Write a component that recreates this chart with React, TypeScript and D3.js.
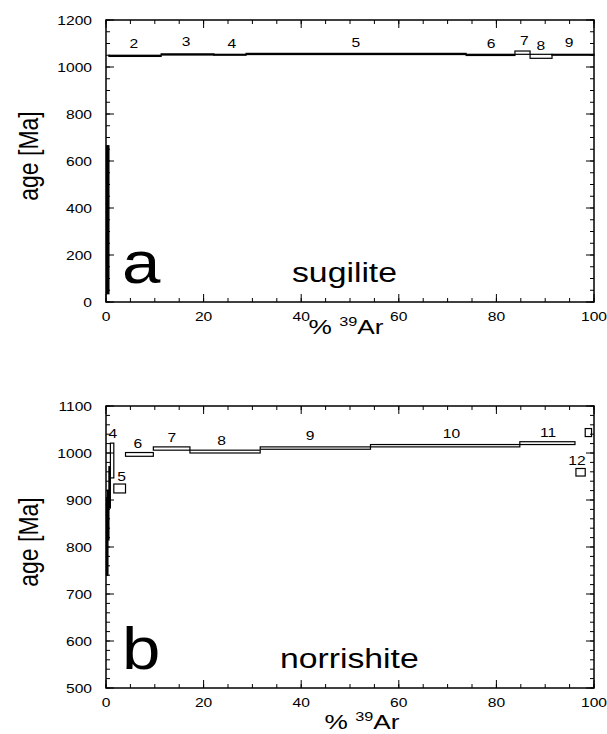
import React from 'react';
import * as d3 from 'd3';

// step heating spectra: cumulative % 39Ar (start, end) and age band (lo, hi) in Ma
const sugStart = [0.1, 0.6, 11.3, 22.1, 28.7, 73.8, 83.8, 86.9, 91.4];
const sugEnd = [0.6, 11.3, 22.1, 28.7, 73.8, 83.8, 86.9, 91.4, 100];
const sugLo = [35, 1045, 1051, 1050, 1053, 1049, 1054, 1037, 1050];
const sugHi = [665, 1050, 1056, 1054, 1058, 1054, 1068, 1054, 1054];
const sugLabels = ['2', '3', '4', '5', '6', '7', '8', '9'];
const sugLabelX = [5.7, 16.4, 25.8, 51.2, 78.9, 85.7, 89.1, 94.9];
const sugLabelAge = [1081, 1089, 1081, 1085, 1081, 1094, 1072, 1085];

const norStart = [0.1, 0.3, 0.6, 0.9, 1.6, 4.0, 9.7, 17.2, 31.6, 54.2, 84.8, 96.3, 98.2];
const norEnd = [0.4, 0.6, 0.9, 1.6, 4.0, 9.7, 17.2, 31.6, 54.2, 84.8, 96.1, 98.2, 99.5];
const norLo = [740, 815, 883, 947, 915, 993, 1006, 1000, 1008, 1013, 1018, 951, 1035];
const norHi = [905, 921, 971, 1021, 934, 1001, 1013, 1006, 1013, 1018, 1024, 967, 1052];
const norLabels = ['4', '5', '6', '7', '8', '9', '10', '11', '12'];
const norLabelX = [1.4, 3.2, 6.5, 13.5, 23.7, 41.8, 70.8, 90.6, 96.5];
const norLabelAge = [1032, 940, 1011, 1023, 1017, 1028, 1032, 1034, 974];

const FONT = '"Liberation Sans", Arial, Helvetica, sans-serif';
const SX = 1.25;

type PanelProps = {
  top: number;
  yDomain: [number, number];
  yMajor: number;
  yMinor: number;
  start: number[];
  end: number[];
  lo: number[];
  hi: number[];
  labels: string[];
  labelX: number[];
  labelAge: number[];
  letter: string;
  name: string;
  nameX: number;
  titleX: number;
  titleGap: number;
};

const Panel = (p: PanelProps) => {
  const left = 106;
  const w = 488;
  const h = 282;
  const x = d3.scaleLinear().domain([0, 100]).range([left, left + w]);
  const y = d3.scaleLinear().domain(p.yDomain).range([p.top + h, p.top]);
  const xMajor = x.ticks(5);
  const xMinor = x.ticks(20);
  const yMaj = y.ticks(p.yMajor);
  const yMin = y.ticks(p.yMinor);
  const bottom = p.top + h;
  const right = left + w;

  const txt = (tx: number, ty: number, s: string, size: number, anchor = 'middle', sx = SX, key?: any) => (
    <text key={key} transform={`translate(${tx},${ty}) scale(${sx},1)`} fontSize={size} textAnchor={anchor} fontFamily={FONT}>
      {s}
    </text>
  );

  return (
    <g>
      {/* steps */}
      {p.start.map((s, i) => {
        const bw = x(p.end[i]) - x(s);
        return (
          <rect
            key={'s' + i}
            x={x(s)}
            y={y(p.hi[i])}
            width={bw}
            height={y(p.lo[i]) - y(p.hi[i])}
            fill={bw < 3 ? '#000' : '#fff'}
            stroke="#000"
            strokeWidth={1.2}
          />
        );
      })}
      {p.labels.map((l, i) => txt(x(p.labelX[i]), y(p.labelAge[i]), l, 12.5, 'middle', SX, 'l' + i))}

      {/* ticks */}
      {xMinor.map((t) => (
        <g key={'xm' + t}>
          <line x1={x(t)} x2={x(t)} y1={bottom} y2={bottom - 4} stroke="#000" />
          <line x1={x(t)} x2={x(t)} y1={p.top} y2={p.top + 4} stroke="#000" />
        </g>
      ))}
      {xMajor.map((t) => (
        <g key={'xM' + t}>
          <line x1={x(t)} x2={x(t)} y1={bottom} y2={bottom - 8} stroke="#000" />
          <line x1={x(t)} x2={x(t)} y1={p.top} y2={p.top + 8} stroke="#000" />
          {txt(x(t), bottom + 19, String(t), 12.5)}
        </g>
      ))}
      {yMin.map((t) => (
        <g key={'ym' + t}>
          <line x1={left} x2={left + 4} y1={y(t)} y2={y(t)} stroke="#000" />
          <line x1={right} x2={right - 4} y1={y(t)} y2={y(t)} stroke="#000" />
        </g>
      ))}
      {yMaj.map((t) => (
        <g key={'yM' + t}>
          <line x1={left} x2={left + 8} y1={y(t)} y2={y(t)} stroke="#000" />
          <line x1={right} x2={right - 8} y1={y(t)} y2={y(t)} stroke="#000" />
          {txt(92, y(t) + 5, String(t), 12.5, 'end')}
        </g>
      ))}
      <rect x={left} y={p.top} width={w} height={h} fill="none" stroke="#000" strokeWidth={1.5} />

      {/* titles */}
      <text
        transform={`translate(38,${p.top + h / 2 - 5}) rotate(-90) scale(1,1.2)`}
        fontSize={23}
        textAnchor="middle"
        fontFamily={FONT}
      >
        age [Ma]
      </text>
      <text transform={`translate(${p.titleX},${bottom + p.titleGap}) scale(${SX},1)`} fontSize={21} textAnchor="middle" fontFamily={FONT}>
        %{' '}
        <tspan fontSize={13} dy={-8}>39</tspan>
        <tspan dy={8}>Ar</tspan>
      </text>
      {txt(122, bottom - 19, p.letter, 60, 'start', 1.15)}
      {txt(p.nameX, bottom - 20, p.name, 27, 'start', 1.25)}
    </g>
  );
};

const App = () => {
  return (
    <svg width={607} height={734} style={{ position: 'absolute', left: 0, top: 0, background: '#fff' }}>
      <Panel
        top={20}
        yDomain={[0, 1200]}
        yMajor={6}
        yMinor={24}
        start={sugStart}
        end={sugEnd}
        lo={sugLo}
        hi={sugHi}
        labels={sugLabels}
        labelX={sugLabelX}
        labelAge={sugLabelAge}
        letter="a"
        name="sugilite"
        nameX={292}
        titleX={346}
        titleGap={32}
      />
      <Panel
        top={406}
        yDomain={[500, 1100]}
        yMajor={6}
        yMinor={30}
        start={norStart}
        end={norEnd}
        lo={norLo}
        hi={norHi}
        labels={norLabels}
        labelX={norLabelX}
        labelAge={norLabelAge}
        letter="b"
        name="norrishite"
        nameX={280}
        titleX={362}
        titleGap={41}
      />
    </svg>
  );
};

export default App;
